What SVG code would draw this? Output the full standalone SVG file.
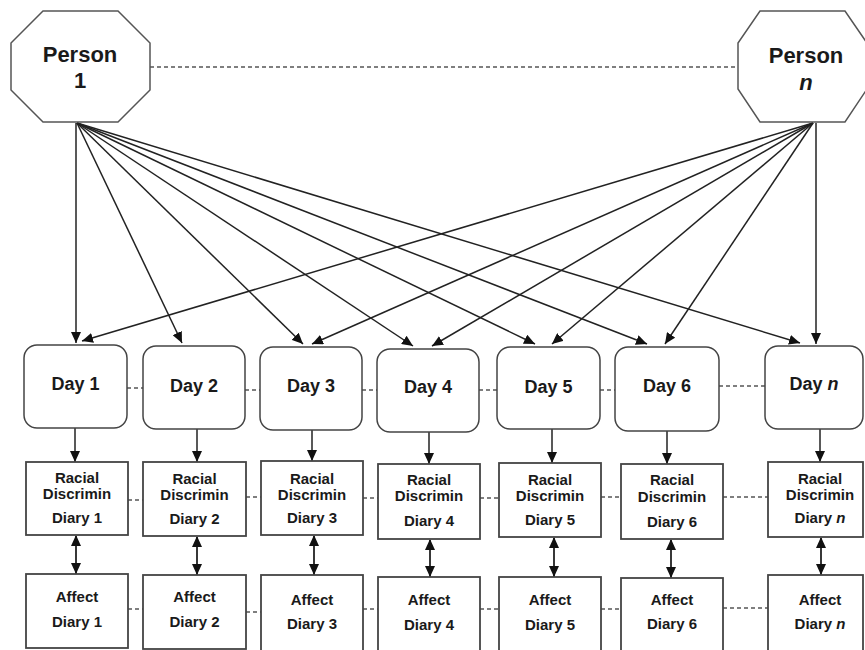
<svg xmlns="http://www.w3.org/2000/svg" width="865" height="650" viewBox="0 0 865 650">
<defs>
<marker id="ah" markerUnits="userSpaceOnUse" markerWidth="12" markerHeight="10" refX="11" refY="5" orient="auto">
<path d="M0,0 L11,5 L0,10 Z" fill="#111"/>
</marker>
<marker id="as" markerUnits="userSpaceOnUse" markerWidth="12" markerHeight="10" refX="1" refY="5" orient="auto">
<path d="M11,0 L0,5 L11,10 Z" fill="#111"/>
</marker>
<style>
.oct{fill:#fff;stroke:#555;stroke-width:1.5}
.day{fill:#fff;stroke:#444;stroke-width:1.5}
.box{fill:#fff;stroke:#444;stroke-width:1.8}
.t{font-family:"Liberation Sans",Arial,sans-serif;font-weight:bold;fill:#1a1a1a;text-anchor:middle}
.tp{font-size:22px}
.td{font-size:18px}
.ts{font-size:15px}
.arr{stroke:#222;stroke-width:1.5;fill:none;marker-end:url(#ah)}
.dbl{stroke:#222;stroke-width:1.8;fill:none;marker-end:url(#ah);marker-start:url(#as)}
.dash{stroke:#555;stroke-width:1.5;stroke-dasharray:4 3;fill:none}
</style>
</defs>
<rect width="865" height="650" fill="#fff"/>

<g id="connectors">
<line class="dash" x1="150" y1="67" x2="738" y2="67"/>
<line class="arr" x1="76" y1="123" x2="76" y2="343"/>
<line class="arr" x1="77" y1="123" x2="182" y2="343"/>
<line class="arr" x1="77" y1="123" x2="303" y2="344"/>
<line class="arr" x1="77" y1="123" x2="413" y2="346"/>
<line class="arr" x1="77" y1="123" x2="535" y2="344"/>
<line class="arr" x1="77" y1="123" x2="647" y2="344"/>
<line class="arr" x1="77" y1="123" x2="800" y2="343"/>
<line class="arr" x1="816" y1="123" x2="816" y2="344"/>
<line class="arr" x1="813" y1="123" x2="82" y2="341"/>
<line class="arr" x1="813" y1="123" x2="312" y2="344"/>
<line class="arr" x1="813" y1="123" x2="432" y2="346"/>
<line class="arr" x1="813" y1="123" x2="552" y2="344"/>
<line class="arr" x1="813" y1="123" x2="665" y2="344"/>
<line class="dash" x1="127" y1="388" x2="143" y2="388"/>
<line class="dash" x1="245" y1="390" x2="260" y2="390"/>
<line class="dash" x1="362" y1="390" x2="377" y2="390"/>
<line class="dash" x1="479" y1="390" x2="497" y2="390"/>
<line class="dash" x1="600" y1="390" x2="615" y2="390"/>
<line class="dash" x1="719" y1="386" x2="765" y2="386"/>
<line class="arr" x1="75" y1="428" x2="75" y2="462"/>
<line class="arr" x1="197" y1="429" x2="197" y2="462"/>
<line class="arr" x1="312" y1="430" x2="312" y2="461"/>
<line class="arr" x1="429" y1="432" x2="429" y2="464"/>
<line class="arr" x1="552" y1="429" x2="552" y2="463"/>
<line class="arr" x1="667" y1="431" x2="667" y2="464"/>
<line class="arr" x1="820" y1="429" x2="820" y2="462"/>
<line class="dash" x1="128" y1="500" x2="143" y2="500"/>
<line class="dash" x1="246" y1="497" x2="261" y2="497"/>
<line class="dash" x1="363" y1="498" x2="378" y2="498"/>
<line class="dash" x1="480" y1="498" x2="499" y2="498"/>
<line class="dash" x1="601" y1="497" x2="621" y2="497"/>
<line class="dash" x1="723" y1="497" x2="768" y2="497"/>
<line class="dbl" x1="76" y1="536" x2="76" y2="574"/>
<line class="dbl" x1="197" y1="537" x2="197" y2="575"/>
<line class="dbl" x1="314" y1="536" x2="314" y2="575"/>
<line class="dbl" x1="430" y1="540" x2="430" y2="577"/>
<line class="dbl" x1="554" y1="538" x2="554" y2="577"/>
<line class="dbl" x1="671" y1="540" x2="671" y2="578"/>
<line class="dbl" x1="821" y1="538" x2="821" y2="575"/>
<line class="dash" x1="128" y1="609" x2="143" y2="609"/>
<line class="dash" x1="246" y1="612" x2="261" y2="612"/>
<line class="dash" x1="363" y1="609" x2="378" y2="609"/>
<line class="dash" x1="480" y1="609" x2="499" y2="609"/>
<line class="dash" x1="601" y1="609" x2="621" y2="609"/>
<line class="dash" x1="723" y1="608" x2="768" y2="608"/>
</g>

<g id="person1">
<polygon class="oct" points="43,11 118,11 150,43 150,90 118,122 43,122 11,90 11,43"/>
<text class="t tp" x="80" y="62">Person</text>
<text class="t tp" x="80" y="88">1</text>
</g>
<g id="personn">
<polygon class="oct" points="760,11 845,11 867,43 867,89 845,122 760,122 738,89 738,43"/>
<text class="t tp" x="806" y="63">Person</text>
<text class="t tp" x="806" y="90" font-style="italic">n</text>
</g>

<g id="day1"><rect class="day" x="24" y="345" width="103" height="83" rx="13"/><text class="t td" x="75.5" y="390">Day 1</text></g>
<g id="day2"><rect class="day" x="143" y="346" width="102" height="83" rx="13"/><text class="t td" x="194" y="392">Day 2</text></g>
<g id="day3"><rect class="day" x="260" y="347" width="102" height="83" rx="13"/><text class="t td" x="311" y="392">Day 3</text></g>
<g id="day4"><rect class="day" x="377" y="349" width="102" height="83" rx="13"/><text class="t td" x="428" y="393">Day 4</text></g>
<g id="day5"><rect class="day" x="497" y="347" width="103" height="82" rx="13"/><text class="t td" x="548.5" y="393">Day 5</text></g>
<g id="day6"><rect class="day" x="615" y="347" width="104" height="84" rx="13"/><text class="t td" x="667" y="392">Day 6</text></g>
<g id="dayn"><rect class="day" x="765" y="346" width="98" height="83" rx="13"/><text class="t td" x="814" y="390">Day <tspan font-style="italic">n</tspan></text></g>

<g id="racial1"><rect class="box" x="26" y="462" width="102" height="73"/><text class="t ts" x="77" y="483">Racial</text><text class="t ts" x="77" y="499">Discrimin</text><text class="t ts" x="77" y="523">Diary 1</text></g>
<g id="racial2"><rect class="box" x="143" y="462" width="103" height="74"/><text class="t ts" x="194.5" y="484">Racial</text><text class="t ts" x="194.5" y="500">Discrimin</text><text class="t ts" x="194.5" y="524">Diary 2</text></g>
<g id="racial3"><rect class="box" x="261" y="461" width="102" height="74"/><text class="t ts" x="312" y="484">Racial</text><text class="t ts" x="312" y="500">Discrimin</text><text class="t ts" x="312" y="523">Diary 3</text></g>
<g id="racial4"><rect class="box" x="378" y="464" width="102" height="75"/><text class="t ts" x="429" y="485">Racial</text><text class="t ts" x="429" y="501">Discrimin</text><text class="t ts" x="429" y="526">Diary 4</text></g>
<g id="racial5"><rect class="box" x="499" y="463" width="102" height="74"/><text class="t ts" x="550" y="485">Racial</text><text class="t ts" x="550" y="501">Discrimin</text><text class="t ts" x="550" y="525">Diary 5</text></g>
<g id="racial6"><rect class="box" x="621" y="464" width="102" height="75"/><text class="t ts" x="672" y="485">Racial</text><text class="t ts" x="672" y="502">Discrimin</text><text class="t ts" x="672" y="527">Diary 6</text></g>
<g id="racialn"><rect class="box" x="768" y="462" width="95" height="75"/><text class="t ts" x="820" y="484">Racial</text><text class="t ts" x="820" y="500">Discrimin</text><text class="t ts" x="820" y="523">Diary <tspan font-style="italic">n</tspan></text></g>

<g id="affect1"><rect class="box" x="26" y="574" width="102" height="74"/><text class="t ts" x="77" y="602">Affect</text><text class="t ts" x="77" y="627">Diary 1</text></g>
<g id="affect2"><rect class="box" x="143" y="575" width="103" height="74"/><text class="t ts" x="194.5" y="602">Affect</text><text class="t ts" x="194.5" y="627">Diary 2</text></g>
<g id="affect3"><rect class="box" x="261" y="575" width="102" height="76"/><text class="t ts" x="312" y="605">Affect</text><text class="t ts" x="312" y="629">Diary 3</text></g>
<g id="affect4"><rect class="box" x="378" y="577" width="102" height="76"/><text class="t ts" x="429" y="605">Affect</text><text class="t ts" x="429" y="630">Diary 4</text></g>
<g id="affect5"><rect class="box" x="499" y="577" width="102" height="76"/><text class="t ts" x="550" y="605">Affect</text><text class="t ts" x="550" y="630">Diary 5</text></g>
<g id="affect6"><rect class="box" x="621" y="578" width="102" height="76"/><text class="t ts" x="672" y="605">Affect</text><text class="t ts" x="672" y="629">Diary 6</text></g>
<g id="affectn"><rect class="box" x="768" y="575" width="95" height="76"/><text class="t ts" x="820" y="605">Affect</text><text class="t ts" x="820" y="629">Diary <tspan font-style="italic">n</tspan></text></g>
</svg>
